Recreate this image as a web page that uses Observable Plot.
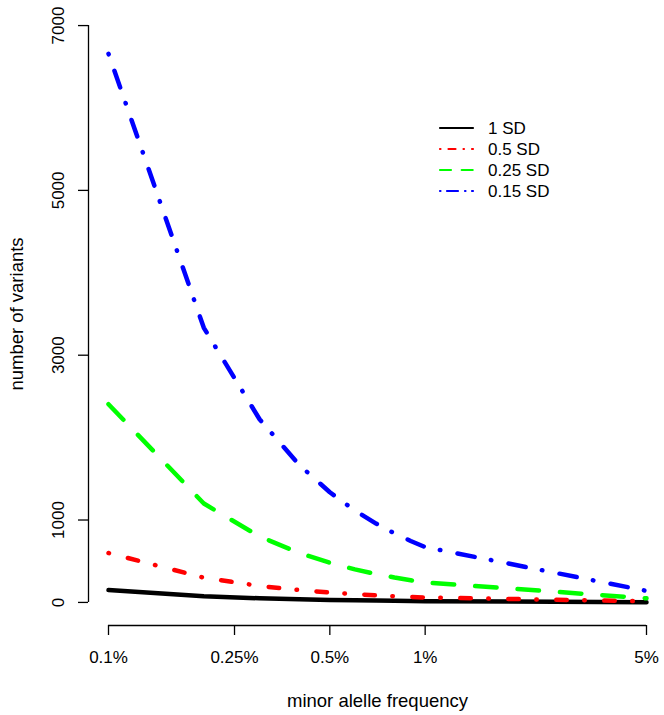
<!DOCTYPE html>
<html>
<head>
<meta charset="utf-8">
<script src="https://cdn.jsdelivr.net/npm/d3@7"></script>
<script src="https://cdn.jsdelivr.net/npm/@observablehq/plot@0.6"></script>
<style>
  html, body { margin: 0; padding: 0; background: #fff; }
  #chart svg { display: block; }
</style>
</head>
<body>
<div id="chart"></div>
<script>
// minor allele frequency (fraction) at which each curve is evaluated
const maf = [0.001, 0.002, 0.003, 0.004, 0.005, 0.006, 0.007, 0.008, 0.009, 0.010, 0.050];

// number of variants
const sd1   = [150, 75, 50, 38, 30, 25, 22, 19, 17, 15, 3];
const sd05  = [600, 300, 200, 150, 120, 100, 86, 75, 67, 60, 13];
const sd025 = [2405, 1200, 800, 601, 481, 401, 345, 302, 269, 242, 50];
const sd015 = [6657, 3332, 2223, 1669, 1337, 1115, 957, 838, 746, 672, 140];

const seriesNames = ["1 SD", "0.5 SD", "0.25 SD", "0.15 SD"];
const seriesValues = [sd1, sd05, sd025, sd015];

const xTickValues = [0.001, 0.0025, 0.005, 0.01, 0.05];
const xTickLabels = ["0.1%", "0.25%", "0.5%", "1%", "5%"];
const yTickValues = [0, 1000, 3000, 5000, 7000];

const xLabel = "minor alelle frequency";
const yLabel = "number of variants";

// styles
const colors = ["#000000", "#ff0000", "#00ff00", "#0000ff"];
const dashes = [null, "0.5,19.5,10.5,17.5", "21.5,21", "0.5,17.5,17.5,16.5"];
const legendDashes = [null, "0.5,8,7,8", "11,10.7", "0.5,6.5,11,7"];

const rows = seriesNames.map((s, k) =>
  maf.map((m, i) => ({series: s, maf: m, n: seriesValues[k][i]}))
);

const yDomain = [-280, 7280];
const font = "'Liberation Sans', Arial, Helvetica, sans-serif";

const marks = [];
rows.forEach((r, k) => {
  marks.push(Plot.line(r, {
    x: "maf", y: "n",
    stroke: colors[k], strokeWidth: 4.5,
    strokeDasharray: dashes[k],
    strokeLinecap: "round", strokeLinejoin: "round"
  }));
});

// x axis line (bottom of the plot region, from first to last tick)
marks.push(Plot.ruleY([yDomain[0]], {x1: xTickValues[0], x2: xTickValues[xTickValues.length - 1], stroke: "#000", strokeWidth: 1.3}));
marks.push(Plot.axisX({
  ticks: xTickValues,
  tickFormat: d => xTickLabels[xTickValues.indexOf(d)],
  tickSize: 10, tickPadding: 15, strokeWidth: 1.3,
  label: null, fontSize: 17
}));

// y axis line, offset to the left of the data
marks.push(Plot.ruleX([xTickValues[0]], {y1: yTickValues[0], y2: yTickValues[yTickValues.length - 1], dx: -20, stroke: "#000", strokeWidth: 1.3}));
marks.push(Plot.axisY({
  ticks: yTickValues, tickFormat: () => "",
  tickSize: 10, dx: -20, strokeWidth: 1.3, label: null
}));
marks.push(Plot.text(yTickValues, {
  y: d => d, text: d => String(d),
  frameAnchor: "left", dx: -45, rotate: -90,
  textAnchor: "middle", lineAnchor: "bottom", fontSize: 17, fill: "#000"
}));

// axis titles
marks.push(Plot.text([xLabel], {
  text: d => d, frameAnchor: "bottom", dy: 81,
  textAnchor: "middle", lineAnchor: "bottom", fontSize: 18.5, fill: "#000"
}));
marks.push(Plot.text([yLabel], {
  text: d => d, frameAnchor: "left", dx: -86, rotate: -90,
  textAnchor: "middle", lineAnchor: "bottom", fontSize: 18.5, fill: "#000"
}));

const chart = Plot.plot({
  width: 664, height: 715,
  marginLeft: 108, marginRight: 18, marginTop: 2, marginBottom: 90,
  x: {type: "log", domain: [xTickValues[0], xTickValues[xTickValues.length - 1]]},
  y: {domain: yDomain},
  style: {fontFamily: font, fontSize: "17px", color: "#000", background: "#fff", overflow: "visible"},
  marks
});

// legend (no box), top right inside the plot region
const svg = d3.select(chart);
const lg = svg.append("g").attr("font-family", font).attr("font-size", 17).attr("text-anchor", "start");
seriesNames.forEach((s, k) => {
  const yy = 128 + k * 21;
  lg.append("line")
    .attr("x1", 440).attr("x2", 473).attr("y1", yy).attr("y2", yy)
    .attr("stroke", colors[k]).attr("stroke-width", 2.2)
    .attr("stroke-linecap", "round")
    .attr("stroke-dasharray", legendDashes[k]);
  lg.append("text").attr("x", 488).attr("y", yy + 6)
    .attr("fill", "#000").attr("text-anchor", "start").text(s);
});

document.getElementById("chart").appendChild(chart);
</script>
</body>
</html>
